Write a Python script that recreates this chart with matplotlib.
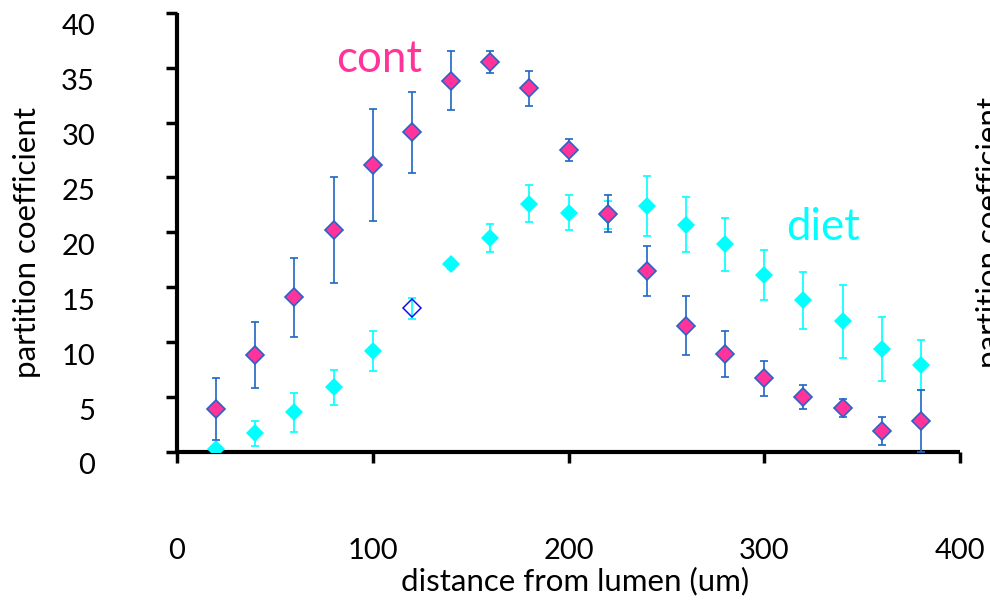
import matplotlib.pyplot as plt
import matplotlib.transforms as mtransforms
import numpy as np

plt.rcParams['font.family'] = ['Lato', 'DejaVu Sans']

distance = [20, 40, 60, 80, 100, 120, 140, 160, 180, 200,
            220, 240, 260, 280, 300, 320, 340, 360, 380]
cont = [3.9, 8.8, 14.1, 20.2, 26.1, 29.1, 33.8, 35.5, 33.1, 27.5,
        21.7, 16.5, 11.5, 8.9, 6.7, 5.0, 4.0, 1.9, 2.8]
cont_err = [2.8, 3.0, 3.6, 4.8, 5.1, 3.7, 2.7, 1.0, 1.6, 1.0,
            1.7, 2.3, 2.7, 2.1, 1.6, 1.1, 0.8, 1.25, 2.8]
diet = [0.25, 1.7, 3.6, 5.9, 9.2, 13.1, 17.1, 19.5, 22.6, 21.8,
        21.6, 22.4, 20.7, 18.9, 16.1, 13.8, 11.9, 9.4, 7.9]
diet_err = [0.3, 1.15, 1.8, 1.6, 1.8, 0.95, 0.4, 1.3, 1.7, 1.6,
            1.3, 2.7, 2.5, 2.4, 2.3, 2.6, 3.3, 2.9, 2.3]
hollow_idx = 5  # the one diet point drawn as an open diamond

x_ticks = [0, 100, 200, 300, 400]
y_ticks = [0, 5, 10, 15, 20, 25, 30, 35, 40]

pink = '#FF3399'
blue = '#1F66C4'
cyan = '#00FFFF'

fig = plt.figure(figsize=(9.9, 6), dpi=100)
ax = fig.add_axes([177/990, 1 - 452/600, 783/990, 439.3/600])

# diet first so cont sits on top
ax.errorbar(distance, diet, yerr=diet_err, fmt='none', ecolor=cyan,
            elinewidth=1.2, capsize=3, capthick=1.2, zorder=2)
d_mask = np.arange(len(distance)) != hollow_idx
ax.plot(np.array(distance)[d_mask], np.array(diet)[d_mask], 'D',
        color=cyan, markersize=9, markeredgewidth=0, zorder=3)
ax.plot(distance[hollow_idx], diet[hollow_idx], 'D', markerfacecolor='none',
        markeredgecolor='#1010F0', markersize=9.5, markeredgewidth=1.1, zorder=3)

ax.errorbar(distance, cont, yerr=cont_err, fmt='none', ecolor=blue,
            elinewidth=1.2, capsize=3, capthick=1.2, zorder=4)
ax.plot(distance, cont, 'D', markerfacecolor=pink, markeredgecolor='#2A62C8',
        markersize=8.7, markeredgewidth=1.2, zorder=5)

ax.set_xlim(0, 400)
ax.set_ylim(0, 40)
ax.set_xticks(x_ticks)
ax.set_yticks(y_ticks)

for side in ['top', 'right']:
    ax.spines[side].set_visible(False)
for side in ['left', 'bottom']:
    ax.spines[side].set_linewidth(3)
    ax.spines[side].set_capstyle('butt')

ax.tick_params(axis='both', direction='out', length=8, width=2.5,
               labelsize=21, colors='black')
ax.tick_params(axis='y', pad=51)
ax.tick_params(axis='x', pad=54)

# Excel puts the y labels a bit below their ticks
shift = mtransforms.ScaledTranslation(0, -0.12, fig.dpi_scale_trans)
for lbl in ax.get_yticklabels():
    lbl.set_transform(lbl.get_transform() + shift)

ax.set_ylabel('partition coefficient', fontsize=22.5, va='center')
ax.yaxis.set_label_coords(-0.1916, 0.476)
ax.set_xlabel('distance from lumen (um)', fontsize=22.5, va='center')
ax.xaxis.set_label_coords(0.508, -0.293)

ax.text(379/990, 1 - 59/600, 'cont', transform=fig.transFigure,
        color=pink, fontsize=31.5, ha='center', va='center')
ax.text(823/990, 1 - 227/600, 'diet', transform=fig.transFigure,
        color=cyan, fontsize=31.5, ha='center', va='center')

# secondary axis label cut by the right edge, as in the original
fig.text(990/990, 1 - 232/600, 'partition coefficient', rotation=90,
         fontsize=22.5, ha='center', va='center')

fig.savefig('out.png', dpi=100)
